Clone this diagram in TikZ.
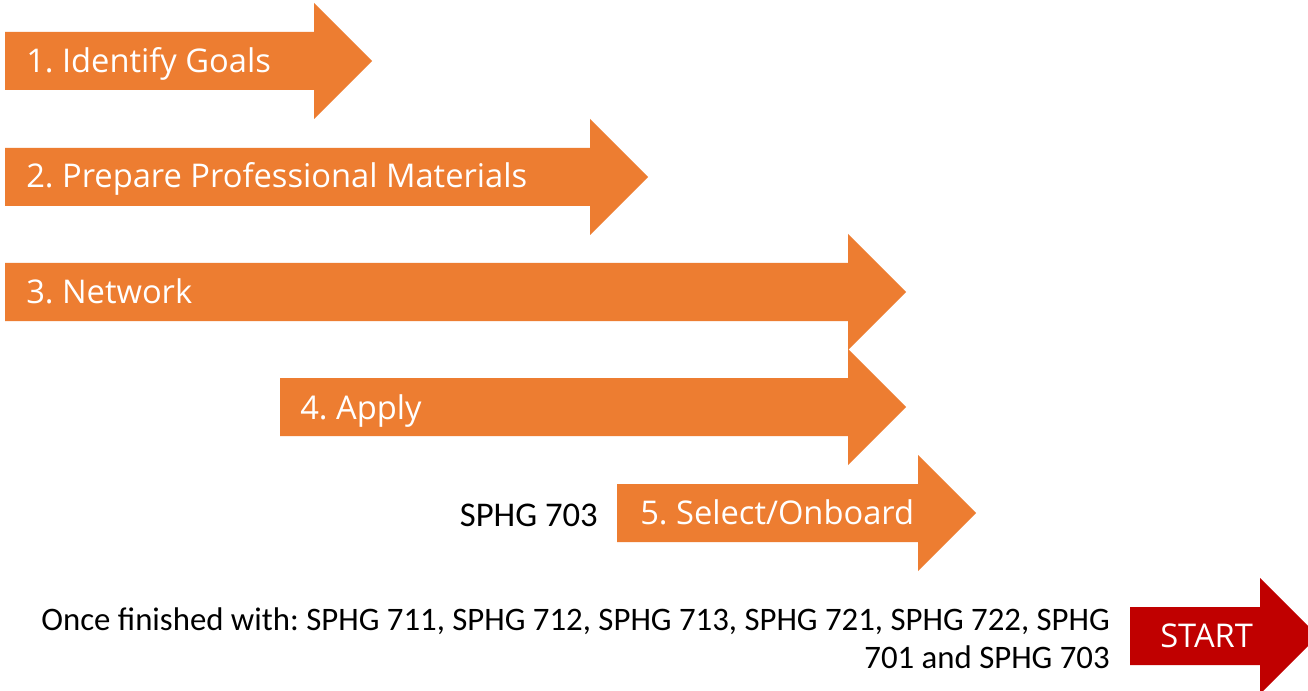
\documentclass[tikz,border=0pt]{standalone}
\usepackage{fontspec}
\setmainfont{Carlito}
\newfontfamily\whitefont{Open Sans}
\frenchspacing
\definecolor{orangeA}{HTML}{ED7D31}
\definecolor{redA}{HTML}{C00000}
\newcommand{\blockarrow}[4]{%
  \fill[#4] (#1,#3-29) -- (#2,#3-29) -- (#2,#3-58) -- (#2+58,#3) -- (#2,#3+58) -- (#2,#3+29) -- (#1,#3+29) -- cycle;}
\begin{document}
\begin{tikzpicture}[x=0.75pt,y=-0.75pt,
  steplabel/.style={anchor=base west,inner sep=0pt,text=white,font=\whitefont\fontsize{24.5pt}{29pt}\selectfont},
  notelabel/.style={inner sep=0pt,text=black,font=\fontsize{24.6pt}{28.5pt}\selectfont}]
\clip (0,0) rectangle (1308,691);
\fill[white] (0,0) rectangle (1308,691);
\blockarrow{5}{314}{61}{orangeA}
\blockarrow{5}{590}{177}{orangeA}
\blockarrow{5}{848}{292}{orangeA}
\blockarrow{280}{848}{407}{orangeA}
\blockarrow{617}{918}{513}{orangeA}
\blockarrow{1130}{1260}{636}{redA}
\node[steplabel] (s1) at (26,73) {1. Identify Goals};
\node[steplabel] (s2) at (26,188) {2. Prepare Professional Materials};
\node[steplabel] (s3) at (26,304) {3. Network};
\node[steplabel] (s4) at (300,419) {4. Apply};
\node[steplabel] (s5) at (640,524) {5. Select/Onboard};
\node[steplabel] (st) at (1160,647) {START};
\node[notelabel,anchor=base east,font=\fontsize{26pt}{30pt}\selectfont] (n5) at (598,526) {SPHG 703};
\node[notelabel,anchor=base east,align=right] (nf) at (1110,668) {Once finished with: SPHG 711, SPHG 712, SPHG 713, SPHG 721, SPHG 722, SPHG\\701 and SPHG 703};
\end{tikzpicture}
\end{document}
